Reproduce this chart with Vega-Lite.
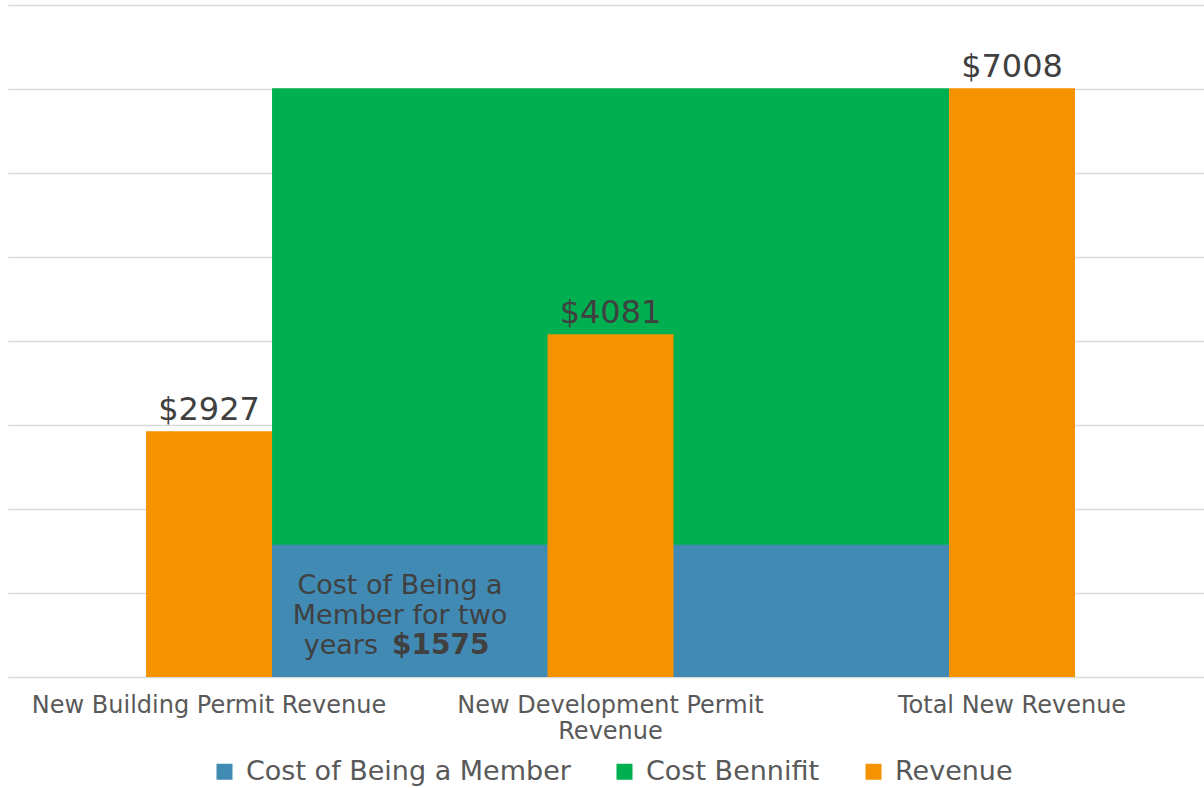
{
  "$schema": "https://vega.github.io/schema/vega-lite/v6.json",
  "width": 1196,
  "height": 672,
  "autosize": {"type": "none"},
  "padding": {"left": 8, "top": 5, "right": 0, "bottom": 111},
  "background": "white",
  "config": {"view": {"stroke": null}, "font": "DejaVu Sans"},
  "datasets": {
    "revenue": [
      {"category": "New Building Permit Revenue", "series": "Revenue", "value": 2927},
      {"category": "New Development Permit Revenue", "series": "Revenue", "value": 4081},
      {"category": "Total New Revenue", "series": "Revenue", "value": 7008}
    ],
    "cost": [
      {"category": "New Building Permit Revenue", "to": "Total New Revenue", "series": "Cost Bennifit", "value": 7008},
      {"category": "New Building Permit Revenue", "to": "Total New Revenue", "series": "Cost of Being a Member", "value": 1575}
    ],
    "note": [
      {"category": "New Building Permit Revenue", "value": 1575}
    ]
  },
  "layer": [
    {
      "data": {"name": "cost"},
      "mark": {"type": "rect"},
      "encoding": {
        "x": {
          "field": "category", "type": "nominal", "bandPosition": 1,
          "scale": {"domain": ["New Building Permit Revenue", "New Development Permit Revenue", "Total New Revenue"], "paddingInner": 0.6862, "paddingOuter": 0.3325, "align": 0.517},
          "axis": {
            "title": null, "domain": false, "ticks": false, "labelAngle": 0, "labelLimit": 0,
            "labelFontSize": 24, "labelColor": "#595959", "labelPadding": 16, "labelBaseline": "top",
            "labelLineHeight": 26, "bandPosition": 0.5,
            "labelExpr": "datum.label == 'New Development Permit Revenue' ? ['New Development Permit', 'Revenue'] : datum.label"
          }
        },
        "x2": {"field": "to", "bandPosition": 0},
        "y": {
          "field": "value", "type": "quantitative", "stack": null,
          "scale": {"domain": [0, 8000], "nice": false},
          "axis": {"values": [0, 1000, 2000, 3000, 4000, 5000, 6000, 7000, 8000], "labels": false, "ticks": false, "domain": false, "title": null, "grid": true, "gridColor": "#D9D9D9", "gridWidth": 1.5}
        },
        "y2": {"datum": 0},
        "color": {
          "field": "series", "type": "nominal",
          "scale": {"domain": ["Cost of Being a Member", "Cost Bennifit", "Revenue"], "range": ["#418AB3", "#00B050", "#F59200"]},
          "legend": {"orient": "none", "legendX": 203, "legendY": 753, "padding": 0, "direction": "horizontal", "title": null, "symbolType": "square", "symbolSize": 256, "symbolStrokeWidth": 0, "labelFontSize": 27, "labelLimit": 0, "labelColor": "#595959", "columnPadding": 40, "labelOffset": 8}
        }
      }
    },
    {
      "data": {"name": "revenue"},
      "mark": {"type": "bar"},
      "encoding": {
        "x": {"field": "category", "type": "nominal"},
        "y": {"field": "value", "type": "quantitative"},
        "color": {"field": "series", "type": "nominal"}
      }
    },
    {
      "data": {"name": "revenue"},
      "mark": {"type": "text", "fontSize": 32, "color": "#404040", "baseline": "alphabetic", "dy": -11},
      "encoding": {
        "x": {"field": "category", "type": "nominal"},
        "y": {"field": "value", "type": "quantitative"},
        "text": {"field": "value", "type": "quantitative", "format": "$d"}
      }
    },
    {
      "data": {"name": "note"},
      "mark": {"type": "text", "fontSize": 27, "color": "#404040", "baseline": "alphabetic", "align": "center", "dx": 128, "dy": 49, "lineHeight": 30},
      "encoding": {
        "x": {"field": "category", "type": "nominal", "bandPosition": 1},
        "y": {"field": "value", "type": "quantitative"},
        "text": {"value": ["Cost of Being a", "Member for two"]}
      }
    },
    {
      "data": {"name": "note"},
      "mark": {"type": "text", "fontSize": 27, "color": "#404040", "baseline": "alphabetic", "align": "right", "dx": 106, "dy": 109},
      "encoding": {
        "x": {"field": "category", "type": "nominal", "bandPosition": 1},
        "y": {"field": "value", "type": "quantitative"},
        "text": {"value": "years"}
      }
    },
    {
      "data": {"name": "note"},
      "mark": {"type": "text", "fontSize": 28, "fontWeight": "bold", "color": "#404040", "baseline": "alphabetic", "align": "left", "dx": 120, "dy": 109},
      "encoding": {
        "x": {"field": "category", "type": "nominal", "bandPosition": 1},
        "y": {"field": "value", "type": "quantitative"},
        "text": {"value": "$1575"}
      }
    }
  ]
}
